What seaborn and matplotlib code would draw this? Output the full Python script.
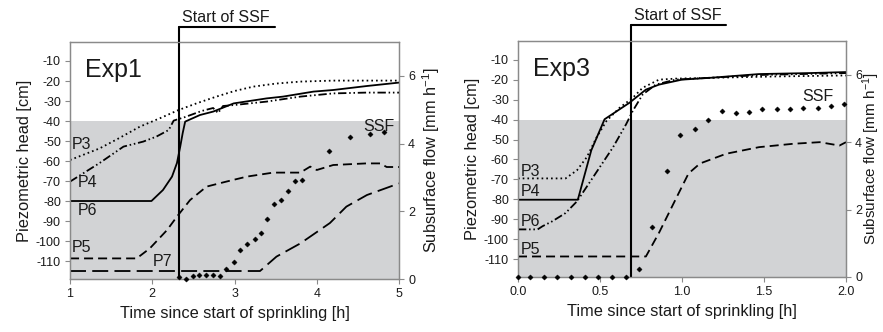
import matplotlib
matplotlib.use("Agg")
import matplotlib.pyplot as plt
import seaborn as sns
import numpy as np

# ---------------- data: Exp1 ----------------
e1_p3_x = [1.0, 1.36, 1.6, 1.85, 2.1, 2.32, 2.55, 2.78, 3.0, 3.23, 3.5, 3.8, 4.2, 4.6, 5.0]
e1_p3_y = [-59.5, -53.7, -48.5, -42.8, -38.5, -34.5, -31.0, -27.8, -25.0, -22.8, -21.3, -20.3, -19.8, -19.8, -19.8]

e1_p4_x = [1.0, 1.36, 1.65, 1.89, 2.05, 2.2, 2.26, 2.4, 2.6, 2.74, 2.8, 2.86, 3.0, 3.39, 3.8, 4.2, 4.6, 5.0]
e1_p4_y = [-70.3, -61.0, -52.8, -50.3, -47.8, -44.5, -39.8, -38.0, -35.0, -33.5, -36.0, -32.5, -32.0, -30.3, -27.8, -26.2, -25.8, -25.8]

e1_p6_x = [1.0, 1.99, 2.13, 2.24, 2.3, 2.34, 2.37, 2.4, 2.58, 2.74, 2.99, 3.39, 3.59, 3.96, 4.2, 4.61, 5.0]
e1_p6_y = [-80.0, -80.0, -74.5, -67.8, -61.0, -52.8, -46.0, -40.3, -37.0, -35.3, -31.2, -28.7, -27.8, -25.3, -24.5, -22.5, -20.8]

e1_p5_x = [1.0, 1.81, 1.97, 2.18, 2.3, 2.46, 2.66, 2.9, 3.15, 3.47, 3.8, 3.92, 4.0, 4.2, 4.6, 4.77, 4.85, 5.0]
e1_p5_y = [-108.7, -108.7, -103.7, -94.5, -87.8, -79.5, -72.8, -70.3, -67.8, -65.8, -65.8, -62.8, -64.5, -62.0, -61.2, -61.2, -63.0, -63.0]

e1_p7_x = [1.0, 3.31, 3.51, 3.8, 4.16, 4.36, 4.61, 5.0]
e1_p7_y = [-115.0, -115.0, -107.8, -101.2, -91.0, -82.8, -77.0, -71.2]

e1_ssf_x = [2.32, 2.41, 2.49, 2.57, 2.65, 2.74, 2.82, 2.90, 2.99, 3.07, 3.15, 3.25, 3.32,
            3.40, 3.48, 3.57, 3.65, 3.74, 3.82, 4.15, 4.40, 4.65, 4.82]
e1_ssf_y = [0.05, 0.0, 0.08, 0.12, 0.12, 0.12, 0.08, 0.29, 0.49, 0.86, 1.04, 1.19, 1.35,
            1.78, 2.22, 2.34, 2.60, 2.88, 2.93, 3.79, 4.18, 4.29, 4.34]

# ---------------- data: Exp3 ----------------
e3_p3_x = [0.0, 0.29, 0.36, 0.42, 0.48, 0.54, 0.62, 0.70, 0.76, 0.86, 0.96, 1.17, 1.57, 2.0]
e3_p3_y = [-69.5, -69.5, -65.4, -58.8, -48.8, -40.6, -34.0, -29.0, -24.0, -19.9, -19.4, -19.0, -18.3, -17.8]

e3_p4_x = [0.0, 0.365, 0.447, 0.528, 0.68, 0.78, 0.86, 1.0, 1.17, 1.47, 1.78, 2.0]
e3_p4_y = [-80.2, -80.2, -55.4, -39.8, -31.5, -24.9, -22.4, -19.9, -19.0, -17.1, -16.6, -16.1]

e3_p6_x = [0.0, 0.12, 0.15, 0.21, 0.29, 0.36, 0.42, 0.50, 0.58, 0.66, 0.70, 0.76, 0.84, 0.96, 1.5, 2.0]
e3_p6_y = [-95.1, -95.1, -93.5, -91.0, -86.9, -81.0, -73.6, -63.7, -53.8, -42.2, -35.6, -27.4, -22.4, -19.9, -17.5, -16.6]

e3_p5_x = [0.0, 0.78, 0.86, 0.96, 1.04, 1.11, 1.27, 1.47, 1.68, 1.84, 1.96, 2.0]
e3_p5_y = [-108.7, -108.7, -96.8, -80.2, -67.0, -62.0, -57.1, -53.8, -52.1, -51.3, -53.0, -51.3]

e3_ssf_x = [0.0, 0.075, 0.158, 0.24, 0.325, 0.41, 0.49, 0.575, 0.66, 0.74, 0.82, 0.91, 0.99,
            1.08, 1.16, 1.245, 1.33, 1.41, 1.49, 1.58, 1.66, 1.74, 1.83, 1.91, 1.99]
e3_ssf_y = [0.0, 0.0, 0.0, 0.0, 0.0, 0.0, 0.0, 0.0, 0.0, 0.245, 1.49, 3.14, 4.2,
            4.39, 4.66, 4.92, 4.87, 4.9, 4.97, 4.97, 4.98, 5.0, 5.02, 5.08, 5.12]

left_yticks = [-10, -20, -30, -40, -50, -60, -70, -80, -90, -100, -110]
right_yticks = [0, 2, 4, 6]
exp1_xticks = [1, 2, 3, 4, 5]
exp3_xticks = [0.0, 0.5, 1.0, 1.5, 2.0]
exp1_ssf_start = 2.33
exp3_ssf_start = 0.689

# ---------------- style ----------------
sns.set_theme(style="white")
plt.rcParams['font.family'] = ['Liberation Sans', 'DejaVu Sans']
plt.rcParams['mathtext.fontset'] = 'custom'
plt.rcParams['mathtext.rm'] = 'Liberation Sans'
plt.rcParams['mathtext.it'] = 'Liberation Sans:italic'
plt.rcParams['lines.scale_dashes'] = False
plt.rcParams['text.color'] = '#1a1a1a'
plt.rcParams['axes.labelcolor'] = '#1a1a1a'
plt.rcParams['xtick.color'] = '#1a1a1a'
plt.rcParams['ytick.color'] = '#1a1a1a'

GREY = '#d2d3d5'
SPINE = '#8a8a8a'
LW = 1.3
DOT = (0, (1.2, 2.2))
DASH = (0, (6.5, 3.6))
LDASH = (0, (11.5, 4.5))
DDOT = (0, (6.0, 2.0, 1.1, 2.0, 1.1, 2.0))

fig = plt.figure(figsize=(8.83, 3.32), dpi=100)
ax1 = fig.add_axes([0.0793, 0.1596, 0.3726, 0.7139])
ax3 = fig.add_axes([0.5866, 0.1657, 0.3715, 0.7108])


def line(ax, x, y, ls):
    sns.lineplot(x=x, y=y, ax=ax, color='black', lw=LW, linestyle=ls,
                 estimator=None, sort=False, zorder=3)


def setup(ax, xlim, xticks, xfmt, title, start, top_frac, hline_end, txt_x, txt_y):
    ax.set_facecolor('white')
    ax.axhspan(-200, -40, color=GREY, zorder=0, lw=0)
    ax.set_ylim(-119, -0.5)
    ax.set_xlim(*xlim)
    ax.set_yticks(left_yticks)
    ax.set_yticklabels([str(v) for v in left_yticks])
    ax.set_xticks(xticks)
    ax.set_xticklabels([xfmt(v) for v in xticks])
    ax.tick_params(axis='both', which='both', direction='out', length=3.5, width=0.8,
                   color=SPINE, labelsize=9, pad=3, left=True, bottom=True)
    for s in ax.spines.values():
        s.set_color(SPINE)
        s.set_linewidth(0.9)
    ax.set_ylabel('Piezometric head [cm]', fontsize=11.8, labelpad=3)
    ax.set_xlabel('Time since start of sprinkling [h]', fontsize=11.8, labelpad=4)
    ax.text(0.045, 0.88, title, transform=ax.transAxes, fontsize=18, ha='left', va='center')
    ax.axvline(start, ymin=0, ymax=top_frac, color='black', lw=1.5, clip_on=False, zorder=5)
    ax.plot([start, hline_end], [top_frac, top_frac], color='black', lw=1.5,
            transform=ax.get_xaxis_transform(), clip_on=False, zorder=5)
    ax.text(txt_x, txt_y, 'Start of SSF', transform=ax.get_xaxis_transform(),
            fontsize=11.5, ha='left', va='center')


def twin(ax, pad, fs):
    a2 = ax.twinx()
    a2.set_ylim(0, 7)
    a2.set_yticks(right_yticks)
    a2.set_yticklabels([str(v) for v in right_yticks])
    a2.tick_params(axis='y', direction='out', length=3.5, width=0.8, color=SPINE,
                   labelsize=9, pad=3, right=True)
    for s in a2.spines.values():
        s.set_color(SPINE)
        s.set_linewidth(0.9)
    a2.set_ylabel('Subsurface flow [mm h$^{-1}$]', fontsize=fs, labelpad=pad)
    return a2


# ---------------- Exp1 ----------------
setup(ax1, (1, 5), exp1_xticks, lambda v: f'{v:d}', 'Exp1', exp1_ssf_start, 1.063, 3.49, 2.36, 1.105)
line(ax1, e1_p3_x, e1_p3_y, DOT)
line(ax1, e1_p4_x, e1_p4_y, DDOT)
line(ax1, e1_p6_x, e1_p6_y, '-')
line(ax1, e1_p5_x, e1_p5_y, DASH)
line(ax1, e1_p7_x, e1_p7_y, LDASH)
for lab, xx, yy in [('P3', 1.02, -51.5), ('P4', 1.09, -70.5), ('P6', 1.09, -84.5),
                    ('P5', 1.02, -103), ('P7', 2.01, -110)]:
    ax1.text(xx, yy, lab, fontsize=11.5, ha='left', va='center', zorder=4)
b1 = twin(ax1, 4, 11.8)
sns.scatterplot(x=e1_ssf_x, y=e1_ssf_y, ax=b1, marker='D', s=7, color='black',
                edgecolor='black', linewidth=0.3, clip_on=False, zorder=4)
b1.text(4.75, 4.5, 'SSF', fontsize=11.5, ha='center', va='center')

# ---------------- Exp3 ----------------
setup(ax3, (0, 2), exp3_xticks, lambda v: f'{v:.1f}', 'Exp3', exp3_ssf_start, 1.068, 1.27, 0.707, 1.11)
line(ax3, e3_p3_x, e3_p3_y, DOT)
line(ax3, e3_p4_x, e3_p4_y, '-')
line(ax3, e3_p6_x, e3_p6_y, DDOT)
line(ax3, e3_p5_x, e3_p5_y, DASH)
for lab, xx, yy in [('P3', 0.02, -66), ('P4', 0.02, -76), ('P6', 0.02, -91),
                    ('P5', 0.02, -105)]:
    ax3.text(xx, yy, lab, fontsize=11.5, ha='left', va='center', zorder=4)
b3 = twin(ax3, -1, 11.0)
sns.scatterplot(x=e3_ssf_x, y=e3_ssf_y, ax=b3, marker='D', s=7, color='black',
                edgecolor='black', linewidth=0.3, clip_on=False, zorder=4)
b3.text(1.83, 5.35, 'SSF', fontsize=11.5, ha='center', va='center')

fig.savefig('out.png', dpi=100)
